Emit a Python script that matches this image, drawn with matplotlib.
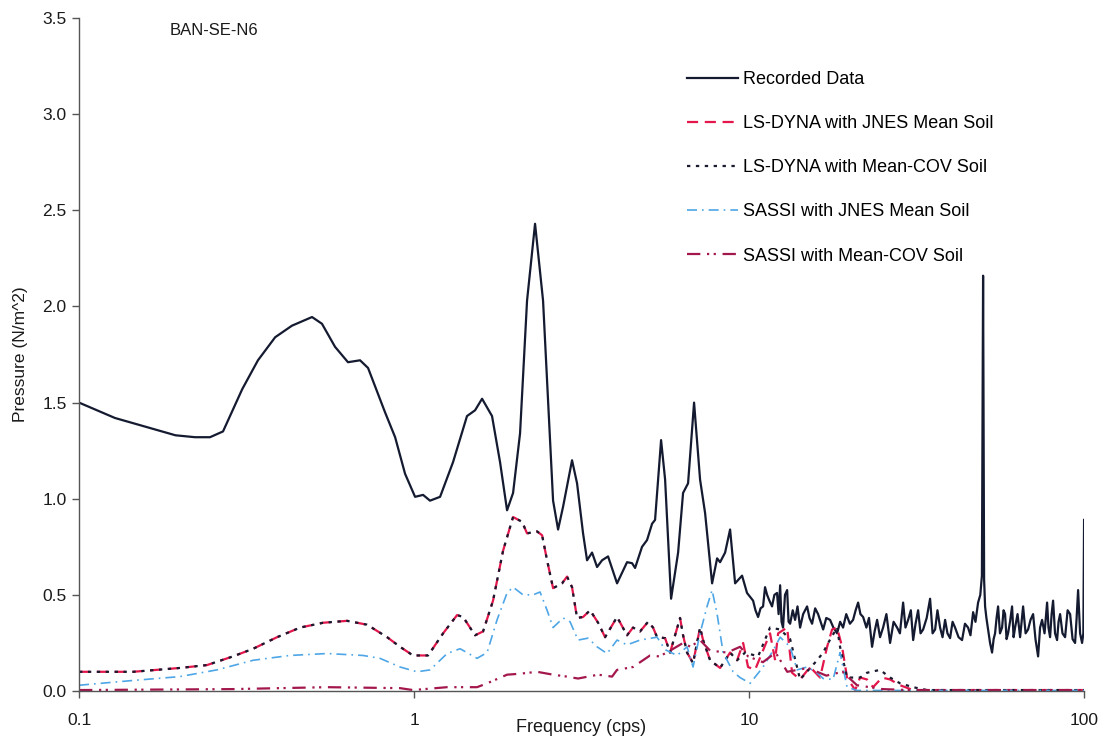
import matplotlib.pyplot as plt
from matplotlib.ticker import FixedLocator, FixedFormatter, NullLocator

plt.rcParams["font.family"] = ["Liberation Sans", "DejaVu Sans"]

# Recorded Data
rec_freq = [0.100, 0.128, 0.194, 0.222, 0.246, 0.269, 0.307, 0.342, 0.385, 0.432,
            0.496, 0.531, 0.581, 0.635, 0.690, 0.729, 0.819, 0.878, 0.940, 1.007,
            1.064, 1.116, 1.196, 1.307, 1.439, 1.521, 1.596, 1.709, 1.806, 1.895,
            1.975, 2.072, 2.174, 2.297, 2.427, 2.512, 2.600, 2.691, 2.786, 2.962,
            3.066, 3.195, 3.284, 3.399, 3.518, 3.641, 3.794, 4.036, 4.323, 4.474,
            4.568, 4.792, 4.960, 5.134, 5.241, 5.462, 5.615, 5.851, 6.140, 6.353,
            6.575, 6.852, 7.140, 7.392, 7.756, 8.028, 8.194, 8.481, 8.777, 9.085,
            9.53, 9.86, 10.07, 10.28, 10.45, 10.64, 10.82, 11.01, 11.16, 11.32,
            11.50, 11.71, 11.90, 12.12, 12.25, 12.38, 12.50, 12.63, 12.80, 12.99,
            13.12, 13.26, 13.50, 13.72, 13.95, 14.20, 14.50, 14.90, 15.15, 15.42,
            15.75, 16.07, 16.35, 16.64, 17.00, 17.45, 17.85, 18.31, 18.70, 19.08,
            19.50, 20.00, 20.44, 20.80, 21.16, 21.50, 21.90, 22.40, 22.80, 23.29,
            23.70, 24.11, 24.60, 25.12, 25.70, 26.36, 27.00, 27.66, 28.20, 28.83,
            29.30, 29.84, 30.40, 30.89, 31.40, 31.96, 32.50, 33.08, 33.90, 34.70,
            35.30, 35.92, 36.50, 37.17, 37.80, 38.47, 39.10, 39.81, 40.50, 41.20,
            42.20, 43.23, 44.10, 45.05, 45.80, 46.64, 47.40, 48.26, 49.00, 49.55,
            49.95, 50.30, 50.64, 51.10, 51.69, 52.40, 53.13, 53.70, 54.24, 54.80,
            55.37, 56.10, 56.91, 57.50, 58.10, 58.70, 59.31, 60.10, 60.96, 61.60,
            62.23, 63.30, 64.42, 65.10, 65.76, 66.90, 68.06, 69.20, 70.44, 71.60,
            72.90, 73.90, 74.92, 76.20, 77.55, 78.30, 79.16, 80.00, 80.81, 81.90,
            83.06, 83.90, 84.80, 86.20, 87.76, 89.30, 90.84, 92.40, 94.00, 95.00,
            95.97, 97.30, 98.63, 99.50, 100.0]
rec_val = [1.50, 1.42, 1.33, 1.32, 1.32, 1.35, 1.57, 1.72, 1.84, 1.90,
           1.945, 1.91, 1.79, 1.71, 1.72, 1.68, 1.45, 1.32, 1.13, 1.01,
           1.02, 0.99, 1.01, 1.19, 1.43, 1.46, 1.52, 1.43, 1.19, 0.94,
           1.03, 1.34, 2.03, 2.43, 2.03, 1.51, 0.99, 0.84, 0.96, 1.20,
           1.08, 0.82, 0.68, 0.72, 0.645, 0.68, 0.70, 0.56, 0.67, 0.665,
           0.64, 0.75, 0.785, 0.87, 0.89, 1.305, 1.10, 0.48, 0.72, 1.03,
           1.08, 1.50, 1.10, 0.925, 0.56, 0.69, 0.67, 0.72, 0.84, 0.56,
           0.60, 0.51, 0.49, 0.47, 0.42, 0.385, 0.43, 0.44, 0.54, 0.50,
           0.47, 0.44, 0.50, 0.51, 0.40, 0.55, 0.36, 0.33, 0.50, 0.525,
           0.36, 0.35, 0.42, 0.37, 0.44, 0.33, 0.40, 0.44, 0.38, 0.35,
           0.43, 0.40, 0.36, 0.32, 0.38, 0.37, 0.33, 0.30, 0.36, 0.33,
           0.40, 0.35, 0.37, 0.42, 0.46, 0.40, 0.385, 0.33, 0.38, 0.23,
           0.31, 0.37, 0.28, 0.33, 0.40, 0.25, 0.36, 0.33, 0.30, 0.46,
           0.33, 0.37, 0.42, 0.265, 0.35, 0.42, 0.30, 0.32, 0.38, 0.48,
           0.30, 0.32, 0.42, 0.33, 0.28, 0.37, 0.30, 0.275, 0.36, 0.33,
           0.28, 0.265, 0.35, 0.33, 0.29, 0.41, 0.36, 0.46, 0.50, 0.60,
           2.16, 0.58, 0.44, 0.38, 0.32, 0.25, 0.20, 0.27, 0.30, 0.38,
           0.44, 0.30, 0.33, 0.42, 0.40, 0.27, 0.30, 0.36, 0.44, 0.28,
           0.33, 0.40, 0.28, 0.36, 0.44, 0.30, 0.32, 0.37, 0.40, 0.27,
           0.18, 0.33, 0.37, 0.30, 0.46, 0.33, 0.28, 0.40, 0.47, 0.30,
           0.265, 0.36, 0.40, 0.30, 0.28, 0.42, 0.40, 0.27, 0.25, 0.38,
           0.525, 0.30, 0.25, 0.30, 0.89]

# LS-DYNA with JNES Mean Soil
lsd_jnes_freq = [0.100, 0.145, 0.200, 0.241, 0.288, 0.331, 0.390, 0.457, 0.535, 0.631,
                 0.724, 0.831, 0.908, 0.993, 1.101, 1.221, 1.344, 1.401, 1.521, 1.607,
                 1.721, 1.844, 1.975, 2.101, 2.174, 2.329, 2.411, 2.495, 2.600, 2.766,
                 2.862, 2.962, 3.066, 3.195, 3.353, 3.543, 3.717, 4.036, 4.323, 4.505,
                 4.727, 4.995, 5.169, 5.314, 5.615, 5.811, 6.223, 6.353, 6.530, 6.805,
                 7.140, 7.290, 7.649, 8.194, 8.777, 9.21, 9.60, 9.93, 10.42, 10.94,
                 11.55, 11.96, 12.21, 12.99, 13.44, 14.20, 15.21, 16.29, 17.10, 17.69,
                 18.31, 18.95, 19.61, 20.73, 21.45, 22.50, 23.45, 24.95, 26.36, 28.23,
                 30.89, 40.0, 60.0, 100.0]
lsd_jnes_val = [0.10, 0.10, 0.12, 0.135, 0.18, 0.22, 0.28, 0.33, 0.355, 0.365,
                0.345, 0.28, 0.23, 0.185, 0.185, 0.30, 0.395, 0.385, 0.29, 0.31,
                0.47, 0.73, 0.905, 0.88, 0.82, 0.83, 0.81, 0.68, 0.535, 0.56,
                0.595, 0.54, 0.38, 0.385, 0.42, 0.355, 0.28, 0.385, 0.29, 0.33,
                0.31, 0.36, 0.33, 0.28, 0.275, 0.20, 0.38, 0.29, 0.20, 0.145,
                0.33, 0.265, 0.16, 0.12, 0.20, 0.16, 0.25, 0.125, 0.11, 0.20,
                0.30, 0.16, 0.30, 0.33, 0.095, 0.06, 0.125, 0.07, 0.23, 0.32,
                0.33, 0.23, 0.07, 0.005, 0.07, 0.06, 0.02, 0.07, 0.06, 0.03,
                0.005, 0.005, 0.005, 0.005]

# LS-DYNA with Mean-COV Soil
lsd_cov_freq = [0.100, 0.145, 0.200, 0.241, 0.288, 0.331, 0.390, 0.457, 0.535, 0.631,
                0.724, 0.831, 0.908, 0.993, 1.101, 1.221, 1.344, 1.401, 1.521, 1.607,
                1.721, 1.844, 1.975, 2.101, 2.174, 2.329, 2.411, 2.495, 2.600, 2.766,
                2.862, 2.962, 3.066, 3.195, 3.353, 3.543, 3.717, 4.036, 4.323, 4.505,
                4.727, 4.995, 5.169, 5.314, 5.615, 5.811, 6.223, 6.353, 6.530, 6.805,
                7.140, 7.290, 7.649, 8.194, 8.777, 9.21, 9.73, 10.64, 11.55, 12.38,
                13.26, 14.20, 15.96, 16.64, 17.22, 18.31, 18.69, 19.61, 21.45, 22.50,
                24.60, 26.36, 28.23, 30.89, 34.0, 50.0, 100.0]
lsd_cov_val = [0.10, 0.10, 0.12, 0.135, 0.18, 0.22, 0.28, 0.33, 0.355, 0.365,
               0.345, 0.28, 0.23, 0.185, 0.185, 0.30, 0.395, 0.385, 0.29, 0.31,
               0.47, 0.73, 0.905, 0.88, 0.82, 0.83, 0.81, 0.68, 0.535, 0.56,
               0.595, 0.54, 0.38, 0.385, 0.42, 0.355, 0.28, 0.385, 0.29, 0.33,
               0.31, 0.36, 0.33, 0.28, 0.275, 0.20, 0.38, 0.29, 0.20, 0.145,
               0.33, 0.265, 0.16, 0.12, 0.20, 0.16, 0.20, 0.18, 0.33, 0.32,
               0.27, 0.06, 0.16, 0.20, 0.25, 0.33, 0.23, 0.07, 0.07, 0.095,
               0.11, 0.07, 0.04, 0.02, 0.005, 0.005, 0.005]

# SASSI with JNES Mean Soil
sassi_jnes_freq = [0.100, 0.145, 0.200, 0.258, 0.331, 0.426, 0.550, 0.704, 0.791, 0.908,
                   1.021, 1.116, 1.255, 1.372, 1.542, 1.652, 1.769, 1.895, 1.975, 2.116,
                   2.266, 2.377, 2.495, 2.600, 2.786, 2.922, 3.087, 3.307, 3.518, 3.768,
                   4.036, 4.323, 4.727, 5.314, 5.615, 6.097, 6.530, 6.805, 7.140, 7.492,
                   7.756, 8.028, 8.366, 8.960, 9.40, 10.07, 11.01, 11.79, 12.38, 13.26,
                   13.91, 14.90, 15.96, 16.64, 17.81, 18.69, 19.61, 21.01, 100.0]
sassi_jnes_val = [0.03, 0.055, 0.075, 0.11, 0.16, 0.185, 0.195, 0.185, 0.17, 0.125,
                  0.10, 0.11, 0.195, 0.22, 0.17, 0.20, 0.37, 0.51, 0.54, 0.50,
                  0.50, 0.515, 0.42, 0.33, 0.38, 0.36, 0.265, 0.275, 0.23, 0.195,
                  0.265, 0.24, 0.265, 0.28, 0.215, 0.185, 0.23, 0.125, 0.30, 0.44,
                  0.525, 0.40, 0.20, 0.10, 0.07, 0.04, 0.125, 0.21, 0.28, 0.23,
                  0.11, 0.125, 0.095, 0.065, 0.06, 0.20, 0.02, 0.003, 0.003]

# SASSI with Mean-COV Soil
sassi_cov_freq = [0.100, 0.288, 0.550, 0.908, 0.993, 1.255, 1.542, 1.652, 1.895, 2.072,
                  2.329, 2.600, 2.862, 3.087, 3.543, 3.900, 4.036, 4.505, 5.064, 5.400,
                  5.811, 6.353, 6.690, 7.140, 7.650, 8.600, 9.40, 9.93, 11.0, 12.0,
                  13.0, 15.0, 17.0, 19.0, 21.0, 25.0, 30.0, 100.0]
sassi_cov_val = [0.005, 0.01, 0.02, 0.015, 0.005, 0.02, 0.02, 0.04, 0.085, 0.09,
                 0.10, 0.085, 0.075, 0.065, 0.085, 0.075, 0.11, 0.125, 0.185, 0.18,
                 0.21, 0.25, 0.23, 0.265, 0.21, 0.20, 0.23, 0.18, 0.15, 0.20,
                 0.10, 0.12, 0.08, 0.10, 0.03, 0.01, 0.005, 0.005]

x_ticks = [0.1, 1, 10, 100]
x_tick_labels = ["0.1", "1", "10", "100"]
y_ticks = [0.0, 0.5, 1.0, 1.5, 2.0, 2.5, 3.0, 3.5]

fig = plt.figure(figsize=(11.07, 7.42), dpi=100)
ax = fig.add_axes([0.0714, 0.0687, 0.9079, 0.907])

ax.plot(rec_freq, rec_val, color="#141a30", lw=1.6, label="Recorded Data")
ax.plot(lsd_jnes_freq, lsd_jnes_val, color="#e3174c", lw=1.6,
        dashes=(5, 3), label="LS-DYNA with JNES Mean Soil")
ax.plot(lsd_cov_freq, lsd_cov_val, color="#1a1a30", lw=1.6,
        dashes=(1.5, 2.5), label="LS-DYNA with Mean-COV Soil")
ax.plot(sassi_jnes_freq, sassi_jnes_val, color="#4ea6e6", lw=1.2,
        dashes=(6, 3, 1, 3), label="SASSI with JNES Mean Soil")
ax.plot(sassi_cov_freq, sassi_cov_val, color="#a3174d", lw=1.6,
        dashes=(6, 3, 1, 2, 1, 3), label="SASSI with Mean-COV Soil")

ax.set_xscale("log")
ax.set_xlim(0.1, 100)
ax.set_ylim(0, 3.5)
ax.xaxis.set_major_locator(FixedLocator(x_ticks))
ax.xaxis.set_major_formatter(FixedFormatter(x_tick_labels))
ax.xaxis.set_minor_locator(NullLocator())
ax.set_yticks(y_ticks)
ax.set_yticklabels([f"{v:.1f}" for v in y_ticks])

for side in ["top", "right"]:
    ax.spines[side].set_visible(False)
for side in ["left", "bottom"]:
    ax.spines[side].set_color("#555555")
    ax.spines[side].set_linewidth(1.0)
ax.tick_params(direction="out", length=5, width=1, color="#555555",
               labelsize=12.5, labelcolor="#1a1a1a", pad=4)
ax.tick_params(axis="x", pad=11)

ax.set_xlabel("Frequency (cps)", fontsize=13, color="#1a1a1a")
ax.xaxis.set_label_coords(0.5, -0.042)
ax.set_ylabel("Pressure (N/m^2)", fontsize=12.5, color="#1a1a1a", labelpad=10)
ax.text(0.09, 0.982, "BAN-SE-N6", transform=ax.transAxes, fontsize=12,
        color="#1a1a1a", va="center", ha="left")

ax.legend(loc="upper left", bbox_to_anchor=(0.605, 0.921), frameon=False,
          fontsize=13, handlelength=2.8, handletextpad=0.3, labelspacing=1.5,
          borderpad=0, borderaxespad=0)

plt.savefig("out.png", dpi=100)
